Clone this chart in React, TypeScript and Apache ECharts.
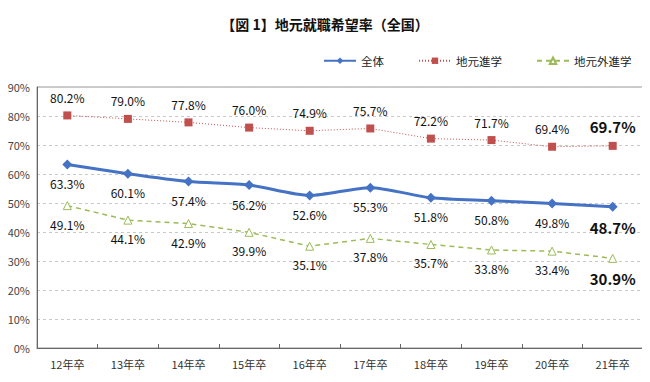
import React, { useEffect, useRef } from "react";
import * as echarts from "echarts";

const categories = ["12年卒", "13年卒", "14年卒", "15年卒", "16年卒", "17年卒", "18年卒", "19年卒", "20年卒", "21年卒"];
const zentai = [63.3, 60.1, 57.4, 56.2, 52.6, 55.3, 51.8, 50.8, 49.8, 48.7];
const jimotoShingaku = [80.2, 79.0, 77.8, 76.0, 74.9, 75.7, 72.2, 71.7, 69.4, 69.7];
const jimotoGaiShingaku = [49.1, 44.1, 42.9, 39.9, 35.1, 37.8, 35.7, 33.8, 33.4, 30.9];
const seriesNames = ["全体", "地元進学", "地元外進学"];
const titleText = "【図 1】地元就職希望率（全国）";

const FONT = "'Noto Sans CJK JP', 'Liberation Sans', sans-serif";

function withLastBold(values: number[]) {
  return values.map((v, i) =>
    i === values.length - 1
      ? { value: v, label: { fontSize: 15, fontWeight: "bold" } }
      : v
  );
}

export default function App() {
  const ref = useRef<HTMLDivElement>(null);
  useEffect(() => {
    if (!ref.current) return;
    const chart = echarts.init(ref.current, null, { renderer: "svg" });
    const labelBase = {
      show: true,
      color: "#111",
      fontSize: 12,
      fontFamily: FONT,
      formatter: (p: any) => p.value.toFixed(1) + "%",
    };
    chart.setOption({
      animation: false,
      backgroundColor: "#fff",
      title: {
        text: titleText,
        left: "center",
        top: 12,
        textStyle: { fontSize: 14, fontWeight: "bold", color: "#111", fontFamily: FONT },
      },
      legend: {
        top: 50,
        left: 318,
        right: 0,
        itemGap: 34,
        itemWidth: 32,
        itemHeight: 8,
        textStyle: { fontSize: 11.5, color: "#222", fontFamily: FONT },
        data: seriesNames,
      },
      grid: { left: 37, right: 7, top: 87, bottom: 34, show: true, borderColor: "#999", borderWidth: 1 },
      xAxis: {
        type: "category",
        data: categories,
        boundaryGap: true,
        axisLine: { lineStyle: { color: "#666" } },
        axisTick: { show: true, inside: true, length: 4, lineStyle: { color: "#666" } },
        axisLabel: { color: "#333", fontSize: 11, fontFamily: FONT, margin: 10 },
      },
      yAxis: {
        type: "value",
        min: 0,
        max: 90,
        interval: 10,
        axisLine: { show: true, lineStyle: { color: "#666" } },
        axisTick: { show: false },
        axisLabel: { color: "#444", fontSize: 11, fontFamily: FONT, formatter: "{value}%", margin: 7 },
        splitLine: { lineStyle: { color: "#c8c8c8", type: [3, 3] } },
      },
      series: [
        {
          name: seriesNames[0],
          type: "line",
          data: withLastBold(zentai),
          smooth: 0.25,
          symbol: "diamond",
          symbolSize: 10,
          itemStyle: { color: "#4472C4" },
          lineStyle: { color: "#4472C4", width: 3 },
          label: { ...labelBase, position: "bottom", distance: 8 },
          z: 3,
        },
        {
          name: seriesNames[1],
          type: "line",
          data: withLastBold(jimotoShingaku),
          symbol: "rect",
          symbolSize: 8,
          itemStyle: { color: "#C0504D" },
          lineStyle: { color: "#C0504D", width: 1, type: [1, 2] },
          label: { ...labelBase, position: "top", distance: 8 },
        },
        {
          name: seriesNames[2],
          type: "line",
          data: withLastBold(jimotoGaiShingaku),
          symbol: "triangle",
          symbolSize: 8,
          itemStyle: { color: "#fff", borderColor: "#9BBB59", borderWidth: 1 },
          lineStyle: { color: "#9BBB59", width: 1.5, type: [5, 4] },
          label: { ...labelBase, position: "bottom", distance: 8 },
        },
      ],
    });
    return () => chart.dispose();
  }, []);
  return <div ref={ref} style={{ width: 650, height: 382, margin: -8 }} />;
}
